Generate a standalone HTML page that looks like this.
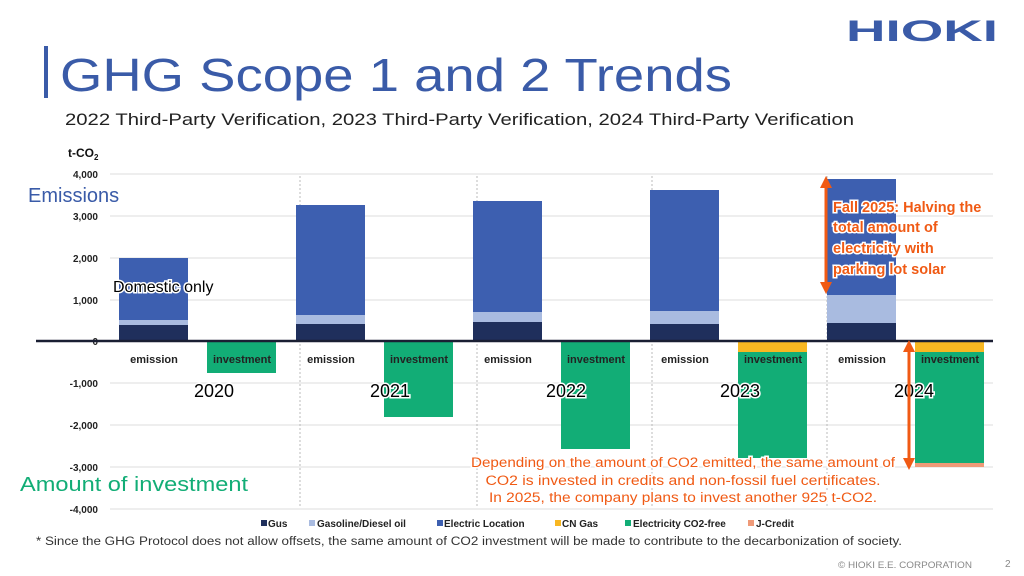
<!DOCTYPE html>
<html><head><meta charset="utf-8"><style>
html,body{margin:0;padding:0;background:#fff;}
svg{display:block;font-family:"Liberation Sans","DejaVu Sans",sans-serif;}
</style></head><body>
<svg width="1024" height="576" viewBox="0 0 1024 576" xmlns="http://www.w3.org/2000/svg">
<rect width="1024" height="576" fill="#fff"/>
<!-- logo -->
<text x="846" y="41" font-size="30" font-weight="bold" fill="#3a5ba8" textLength="152" lengthAdjust="spacingAndGlyphs">HIOKI</text>
<!-- title -->
<rect x="44" y="46" width="4" height="52" fill="#3a5ba8"/>
<text x="60" y="91" font-size="46" fill="#3a5ba8" textLength="672" lengthAdjust="spacingAndGlyphs">GHG Scope 1 and 2 Trends</text>
<text x="65" y="125" font-size="17" fill="#222" textLength="789" lengthAdjust="spacingAndGlyphs">2022 Third-Party Verification, 2023 Third-Party Verification, 2024 Third-Party Verification</text>
<!-- unit -->
<text x="68" y="157" font-size="12" font-weight="bold" fill="#111">t-CO<tspan font-size="8" dy="3">2</tspan></text>
<!-- grid -->
<g stroke="#ddd" stroke-width="1">
<line x1="110" x2="993" y1="174" y2="174"/><line x1="110" x2="993" y1="216" y2="216"/>
<line x1="110" x2="993" y1="258" y2="258"/><line x1="110" x2="993" y1="300" y2="300"/>
<line x1="110" x2="993" y1="383" y2="383"/><line x1="110" x2="993" y1="425" y2="425"/>
<line x1="110" x2="993" y1="467" y2="467"/><line x1="110" x2="993" y1="509" y2="509"/>
</g>
<g stroke="#bbb" stroke-width="1" stroke-dasharray="2,2">
<line x1="300" x2="300" y1="176" y2="508"/><line x1="477" x2="477" y1="176" y2="508"/>
<line x1="652" x2="652" y1="176" y2="508"/><line x1="827" x2="827" y1="176" y2="508"/>
</g>
<g font-size="10" font-weight="bold" fill="#222" text-anchor="end">
<text x="98" y="178">4,000</text><text x="98" y="220">3,000</text><text x="98" y="262">2,000</text>
<text x="98" y="304">1,000</text><text x="98" y="345">0</text><text x="98" y="387">-1,000</text>
<text x="98" y="429">-2,000</text><text x="98" y="471">-3,000</text><text x="98" y="513">-4,000</text>
</g>
<!-- bars -->
<g>
<rect x="119" y="325" width="69" height="16" fill="#1f2f5c"/><rect x="119" y="320" width="69" height="5" fill="#a9bbe0"/><rect x="119" y="258" width="69" height="62" fill="#3d5fb0"/>
<rect x="296" y="324" width="69" height="17" fill="#1f2f5c"/><rect x="296" y="315" width="69" height="9" fill="#a9bbe0"/><rect x="296" y="205" width="69" height="110" fill="#3d5fb0"/>
<rect x="473" y="322" width="69" height="19" fill="#1f2f5c"/><rect x="473" y="312" width="69" height="10" fill="#a9bbe0"/><rect x="473" y="201" width="69" height="111" fill="#3d5fb0"/>
<rect x="650" y="324" width="69" height="17" fill="#1f2f5c"/><rect x="650" y="311" width="69" height="13" fill="#a9bbe0"/><rect x="650" y="190" width="69" height="121" fill="#3d5fb0"/>
<rect x="827" y="323" width="69" height="18" fill="#1f2f5c"/><rect x="827" y="295" width="69" height="28" fill="#a9bbe0"/><rect x="827" y="179" width="69" height="116" fill="#3d5fb0"/>
<rect x="207" y="341" width="69" height="32" fill="#12ad76"/>
<rect x="384" y="341" width="69" height="76" fill="#12ad76"/>
<rect x="561" y="341" width="69" height="108" fill="#12ad76"/>
<rect x="738" y="341" width="69" height="11" fill="#f8b722"/><rect x="738" y="352" width="69" height="106" fill="#12ad76"/>
<rect x="915" y="341" width="69" height="11" fill="#f8b722"/><rect x="915" y="352" width="69" height="111" fill="#12ad76"/><rect x="915" y="463" width="69" height="4" fill="#ef9a78"/>
</g>
<line x1="36" x2="993" y1="341" y2="341" stroke="#1a1f33" stroke-width="2.5"/>
<!-- category labels -->
<g font-size="11" font-weight="bold" fill="#222" text-anchor="middle">
<text x="154" y="363">emission</text><text x="242" y="363">investment</text>
<text x="331" y="363">emission</text><text x="419" y="363">investment</text>
<text x="508" y="363">emission</text><text x="596" y="363">investment</text>
<text x="685" y="363">emission</text><text x="773" y="363">investment</text>
<text x="862" y="363">emission</text><text x="950" y="363">investment</text>
</g>
<g font-size="18" fill="#000" text-anchor="middle" stroke="#fff" stroke-width="3" paint-order="stroke">
<text x="214" y="397">2020</text><text x="390" y="397">2021</text><text x="566" y="397">2022</text>
<text x="740" y="397">2023</text><text x="914" y="397">2024</text>
</g>
<text x="113" y="292" font-size="16" fill="#000" stroke="#fff" stroke-width="3" paint-order="stroke">Domestic only</text>
<text x="28" y="202" font-size="20" fill="#3a5ba8">Emissions</text>
<text x="20" y="491" font-size="20" fill="#12ad76" textLength="228" lengthAdjust="spacingAndGlyphs">Amount of investment</text>
<!-- arrows -->
<g stroke="#f05a14" stroke-width="3" fill="#f05a14">
<line x1="826" y1="186" x2="826" y2="284"/>
<polygon points="820,188 832,188 826,176" stroke="none"/><polygon points="820,282 832,282 826,294" stroke="none"/>
<line x1="909" y1="350" x2="909" y2="460"/>
<polygon points="903,352 915,352 909,340" stroke="none"/><polygon points="903,458 915,458 909,470" stroke="none"/>
</g>
<g font-size="14.5" font-weight="bold" fill="#f05a14" stroke="#fff" stroke-width="3" paint-order="stroke">
<text x="833" y="212">Fall 2025: Halving the</text>
<text x="833" y="232">total amount of</text>
<text x="833" y="253">electricity with</text>
<text x="833" y="274">parking lot solar</text>
</g>
<g font-size="13.5" fill="#f05a14" text-anchor="middle" stroke="#fff" stroke-width="3" paint-order="stroke">
<text x="683" y="467" textLength="424" lengthAdjust="spacingAndGlyphs">Depending on the amount of CO2 emitted, the same amount of</text>
<text x="683" y="485" textLength="395" lengthAdjust="spacingAndGlyphs">CO2 is invested in credits and non-fossil fuel certificates.</text>
<text x="683" y="502" textLength="388" lengthAdjust="spacingAndGlyphs">In 2025, the company plans to invest another 925 t-CO2.</text>
</g>
<!-- legend -->
<g font-size="10" font-weight="bold" fill="#222">
<rect x="261" y="520" width="6" height="6" fill="#1f2f5c"/><text x="268" y="527">Gus</text>
<rect x="309" y="520" width="6" height="6" fill="#a9bbe0"/><text x="317" y="527">Gasoline/Diesel oil</text>
<rect x="437" y="520" width="6" height="6" fill="#3d5fb0"/><text x="444" y="527">Electric Location</text>
<rect x="555" y="520" width="6" height="6" fill="#f8b722"/><text x="562" y="527">CN Gas</text>
<rect x="625" y="520" width="6" height="6" fill="#12ad76"/><text x="633" y="527">Electricity CO2-free</text>
<rect x="748" y="520" width="6" height="6" fill="#ef9a78"/><text x="756" y="527">J-Credit</text>
</g>
<text x="36" y="545" font-size="11.5" fill="#333" textLength="866" lengthAdjust="spacingAndGlyphs">* Since the GHG Protocol does not allow offsets, the same amount of CO2 investment will be made to contribute to the decarbonization of society.</text>
<text x="838" y="568" font-size="9" fill="#888" textLength="134" lengthAdjust="spacingAndGlyphs">© HIOKI E.E. CORPORATION</text>
<text x="1005" y="567" font-size="10" fill="#888">2</text>
</svg>
</body></html>
